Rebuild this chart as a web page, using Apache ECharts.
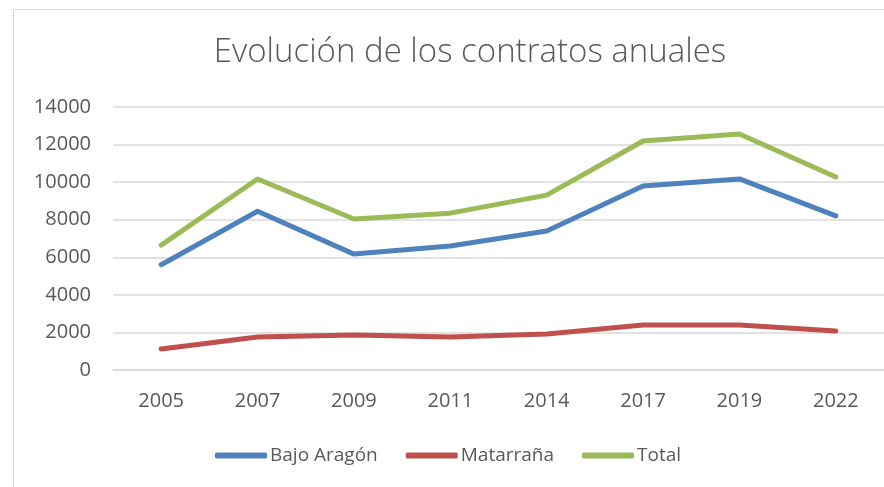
<!DOCTYPE html>
<html>
<head>
<meta charset="utf-8">
<style>
  html, body { margin: 0; padding: 0; background: #fff; }
  #chart { width: 884px; height: 487px; }
</style>
<script src="https://cdn.jsdelivr.net/npm/echarts@6/dist/echarts.min.js"></script>
</head>
<body>
<div id="chart"></div>
<script>
const years = ['2005', '2007', '2009', '2011', '2014', '2017', '2019', '2022'];
const bajoAragon = [5600, 8450, 6170, 6600, 7400, 9790, 10170, 8200];
const matarrana = [1120, 1760, 1860, 1760, 1920, 2390, 2390, 2080];
const total = [6650, 10170, 8040, 8350, 9310, 12190, 12560, 10270];

window.onload = () => {
    let chart = echarts.init(document.getElementById('chart'));
    const font = 'Open Sans';
    const grey = '#595959';
    let option = {
        animation: false,
        backgroundColor: '#fff',
        graphic: [{
            type: 'rect',
            shape: { x: 13.5, y: 9.5, width: 900, height: 500 },
            style: { fill: 'none', stroke: '#d9d9d9', lineWidth: 1 },
            silent: true
        }],
        title: {
            text: 'Evolución de los contratos anuales',
            left: 465,
            textAlign: 'center',
            top: 31,
            textStyle: { fontFamily: font, fontSize: 33, fontWeight: 300, color: grey }
        },
        legend: {
            left: 210,
            top: 441,
            icon: 'roundRect',
            itemWidth: 52,
            itemHeight: 6,
            itemGap: 28,
            textStyle: { fontFamily: font, fontSize: 19, color: grey, padding: [0, 0, 0, -2] },
            data: ['Bajo Aragón', 'Matarraña', 'Total']
        },
        grid: { left: 113, right: -5, top: 107, bottom: 117, containLabel: false },
        xAxis: {
            type: 'category',
            data: years,
            boundaryGap: true,
            axisLine: { lineStyle: { color: '#d9d9d9', width: 1.5 } },
            axisTick: { show: false },
            axisLabel: { margin: 21, fontFamily: font, fontSize: 20, color: grey }
        },
        yAxis: {
            type: 'value',
            min: 0,
            max: 14000,
            interval: 2000,
            axisLine: { show: false },
            axisTick: { show: false },
            splitLine: { lineStyle: { color: '#d9d9d9', width: 1.5 } },
            axisLabel: { margin: 22, fontFamily: font, fontSize: 20, color: grey,
                         formatter: (v) => String(v) }
        },
        series: [
            { name: 'Bajo Aragón', type: 'line', data: bajoAragon, showSymbol: false, color: '#4f81bd',
              lineStyle: { width: 5, cap: 'round', join: 'round' } },
            { name: 'Matarraña', type: 'line', data: matarrana, showSymbol: false, color: '#c0504d',
              lineStyle: { width: 5, cap: 'round', join: 'round' } },
            { name: 'Total', type: 'line', data: total, showSymbol: false, color: '#9bbb59',
              lineStyle: { width: 5, cap: 'round', join: 'round' } }
        ]
    };
    chart.setOption(option);
};
</script>
</body>
</html>
